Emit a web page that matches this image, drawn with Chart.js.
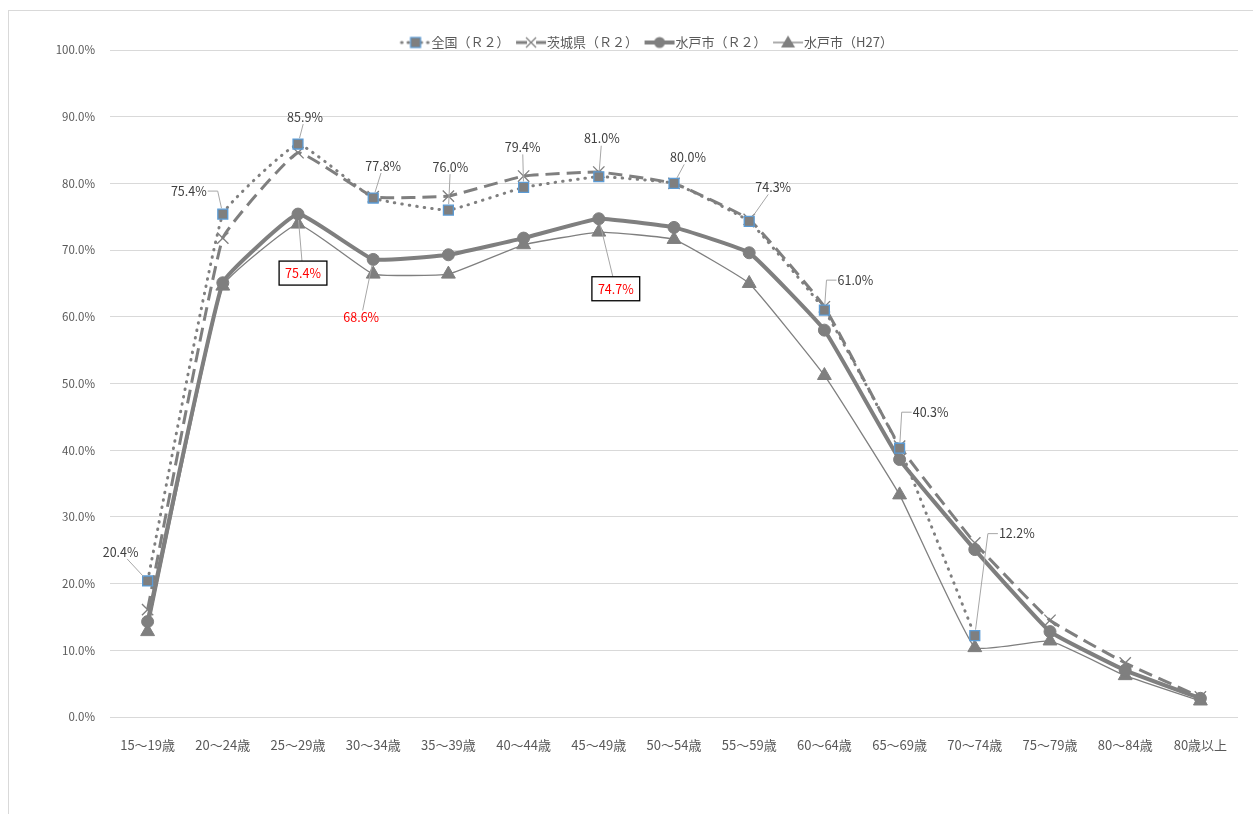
<!DOCTYPE html>
<html lang="ja">
<head>
<meta charset="utf-8">
<title>労働力率</title>
<script src="https://cdn.jsdelivr.net/npm/chart.js@4.4.1/dist/chart.umd.min.js"></script>
<style>
  html, body { margin: 0; padding: 0; background: #fff; }
  #wrap { position: relative; width: 1253px; height: 814px; overflow: hidden; }
  #frame { position: absolute; left: 8px; top: 10px; width: 1300px; height: 900px;
           border: 1px solid #d9d9d9; pointer-events: none; }
  canvas { position: absolute; left: 0; top: 0; }
</style>
</head>
<body>
<div id="wrap">
  <canvas id="chart" width="1253" height="814"></canvas>
  <div id="frame"></div>
</div>
<script>
// Age groups on the category axis
const categories = ['15～19歳', '20～24歳', '25～29歳', '30～34歳', '35～39歳',
  '40～44歳', '45～49歳', '50～54歳', '55～59歳', '60～64歳', '65～69歳',
  '70～74歳', '75～79歳', '80～84歳', '80歳以上'];

// Series names
const seriesNames = ['全国（Ｒ２）', '茨城県（Ｒ２）', '水戸市（Ｒ２）', '水戸市（H27）'];

// Labour force participation rate (%)
const zenkokuR2 = [20.4, 75.4, 85.9, 77.8, 76.0, 79.4, 81.0, 80.0, 74.3, 61.0, 40.3, 12.2, null, null, null];
const ibarakiR2 = [16.1, 71.8, 84.6, 78.0, 78.1, 81.1, 81.7, 80.0, 74.6, 61.5, 40.6, 26.1, 14.5, 8.1, 3.0];
const mitoR2    = [14.3, 65.1, 75.4, 68.6, 69.3, 71.8, 74.7, 73.4, 69.6, 58.0, 38.6, 25.1, 12.8, 7.0, 2.8];
const mitoH27   = [12.8, 64.6, 73.9, 66.4, 66.4, 70.8, 72.7, 71.6, 65.0, 51.2, 33.3, 10.4, 11.4, 6.2, 2.4];

// Y axis ticks (%)
const yTicks = [0, 10, 20, 30, 40, 50, 60, 70, 80, 90, 100];

const FONT = "'Noto Sans CJK JP', 'Noto Sans', sans-serif";
const GRAY = '#7f7f7f';

// Callout placement: series index, category index, offset of the label centre from the point (px)
const callouts = [
  { s: 0, i: 0,  dx: -27, dy: -29, leader: 'direct' },
  { s: 0, i: 1,  dx: -34, dy: -23, leader: 'elbow' },
  { s: 0, i: 2,  dx: 7,   dy: -27, leader: 'direct' },
  { s: 0, i: 3,  dx: 10,  dy: -32, leader: 'direct' },
  { s: 0, i: 4,  dx: 2,   dy: -43, leader: 'direct' },
  { s: 0, i: 5,  dx: -1,  dy: -40, leader: 'direct' },
  { s: 0, i: 6,  dx: 3,   dy: -38, leader: 'direct' },
  { s: 0, i: 7,  dx: 14,  dy: -26, leader: 'direct' },
  { s: 0, i: 8,  dx: 24,  dy: -34, leader: 'direct' },
  { s: 0, i: 9,  dx: 31,  dy: -30, leader: 'elbow' },
  { s: 0, i: 10, dx: 31,  dy: -36, leader: 'elbow' },
  { s: 0, i: 11, dx: 42,  dy: -102, leader: 'elbow' },
  { s: 2, i: 2,  dx: 5,   dy: 59, leader: 'direct', red: true, boxed: true },
  { s: 2, i: 3,  dx: -12, dy: 58, leader: 'direct', red: true },
  { s: 2, i: 6,  dx: 17,  dy: 70, leader: 'direct', red: true, boxed: true }
];

// Legend layout
const LEGEND_BOX = 24;            // legend box width reserved per item
const LEGEND_FONT = 13;
const ICON_W = LEGEND_BOX + LEGEND_FONT; // icon is centred on the box, so it spans box-6.5 .. text start

// Legend icons: short line sample with the series marker in the middle
function makeIcon(kind) {
  const c = document.createElement('canvas');
  c.width = ICON_W; c.height = 16;
  const g = c.getContext('2d');
  const y = 8;
  const x0 = 6, x1 = ICON_W - 1;
  const m = (x0 + x1) / 2;
  g.strokeStyle = GRAY;
  g.fillStyle = GRAY;
  if (kind === 0) {
    g.lineWidth = 3; g.setLineDash([0.5, 6]); g.lineCap = 'round';
    g.beginPath(); g.moveTo(x0 + 1, y); g.lineTo(x1, y); g.stroke();
    g.setLineDash([]);
    g.fillRect(m - 5, y - 5, 10, 10);
    g.strokeStyle = '#5b9bd5'; g.lineWidth = 1.2;
    g.strokeRect(m - 5, y - 5, 10, 10);
  } else if (kind === 1) {
    g.lineWidth = 3;
    g.beginPath(); g.moveTo(x0, y); g.lineTo(m - 4, y); g.moveTo(m + 5, y); g.lineTo(x1, y); g.stroke();
    g.lineWidth = 1.3;
    g.beginPath(); g.moveTo(m - 5, y - 5); g.lineTo(m + 5, y + 5);
    g.moveTo(m + 5, y - 5); g.lineTo(m - 5, y + 5); g.stroke();
  } else if (kind === 2) {
    g.lineWidth = 4;
    g.beginPath(); g.moveTo(x0, y); g.lineTo(x1, y); g.stroke();
    g.beginPath(); g.arc(m, y, 5.5, 0, Math.PI * 2); g.fill();
  } else {
    g.lineWidth = 1.3;
    g.beginPath(); g.moveTo(x0, y); g.lineTo(x1, y); g.stroke();
    g.beginPath(); g.moveTo(m, y - 7); g.lineTo(m + 7, y + 5); g.lineTo(m - 7, y + 5); g.closePath(); g.fill();
  }
  return c;
}
const legendIcons = [0, 1, 2, 3].map(makeIcon);

// Draws the value callouts with their leader lines
const calloutPlugin = {
  id: 'callouts',
  afterDatasetsDraw(chart) {
    const ctx = chart.ctx;
    ctx.save();
    ctx.font = '12.5px ' + FONT;
    ctx.textAlign = 'center';
    ctx.textBaseline = 'middle';
    callouts.forEach(c => {
      const meta = chart.getDatasetMeta(c.s);
      const el = meta.data[c.i];
      const v = chart.data.datasets[c.s].data[c.i];
      if (!el || v == null) return;
      const px = el.x, py = el.y;
      const text = v.toFixed(1) + '%';
      const tw = ctx.measureText(text).width;
      const cx = px + c.dx, cy = py + c.dy;
      const hw = c.boxed ? tw / 2 + 6 : tw / 2 + 1;
      const hh = c.boxed ? 12 : 7;
      // leader line
      ctx.strokeStyle = '#a6a6a6';
      ctx.lineWidth = 1;
      ctx.beginPath();
      if (c.leader === 'elbow') {
        const side = c.dx < 0 ? 1 : -1;
        const sx = cx + side * hw;
        const ex = sx + side * 10;
        const ang = Math.atan2(py - cy, px - ex);
        ctx.moveTo(sx, cy);
        ctx.lineTo(ex, cy);
        ctx.lineTo(px - Math.cos(ang) * 6, py - Math.sin(ang) * 6);
      } else {
        const ddx = px - cx, ddy = py - cy;
        const t = Math.min(Math.abs(hw / (ddx || 1e-6)), Math.abs(hh / (ddy || 1e-6)));
        const sx = cx + ddx * t, sy = cy + ddy * t;
        const len = Math.hypot(ddx, ddy);
        ctx.moveTo(sx, sy);
        ctx.lineTo(px - ddx / len * 6, py - ddy / len * 6);
      }
      ctx.stroke();
      if (c.boxed) {
        ctx.fillStyle = '#fff';
        ctx.fillRect(cx - hw, cy - hh, hw * 2, hh * 2);
        ctx.strokeStyle = '#000';
        ctx.lineWidth = 1.3;
        ctx.strokeRect(cx - hw, cy - hh, hw * 2, hh * 2);
      }
      ctx.fillStyle = c.red ? '#ff0000' : '#404040';
      ctx.fillText(text, cx, cy);
    });
    ctx.restore();
  }
};

const PAD_LEFT = 56;
const PLOT_LEFT = 110;

const chart = new Chart(document.getElementById('chart'), {
  type: 'line',
  data: {
    labels: categories,
    datasets: [
      {
        label: seriesNames[0], data: zenkokuR2,
        borderColor: GRAY, borderWidth: 3, borderDash: [0.5, 7], borderCapStyle: 'round',
        pointStyle: 'rect', pointRadius: 7, pointBackgroundColor: GRAY,
        pointBorderColor: '#5b9bd5', pointBorderWidth: 1.3, tension: 0.1
      },
      {
        label: seriesNames[1], data: ibarakiR2,
        borderColor: GRAY, borderWidth: 3, borderDash: [14, 7],
        pointStyle: 'crossRot', pointRadius: 8, pointBorderColor: GRAY,
        pointBorderWidth: 1.3, tension: 0.1
      },
      {
        label: seriesNames[2], data: mitoR2,
        borderColor: GRAY, borderWidth: 4,
        pointStyle: 'circle', pointRadius: 6, pointBackgroundColor: GRAY,
        pointBorderColor: GRAY, pointBorderWidth: 1, tension: 0.1
      },
      {
        label: seriesNames[3], data: mitoH27,
        borderColor: GRAY, borderWidth: 1.3,
        pointStyle: 'triangle', pointRadius: 8, pointBackgroundColor: GRAY,
        pointBorderColor: GRAY, pointBorderWidth: 1, tension: 0.1
      }
    ]
  },
  options: {
    responsive: false,
    animation: false,
    layout: { padding: { left: PAD_LEFT, right: 15, top: 29, bottom: 0 } },
    plugins: {
      tooltip: { enabled: false },
      legend: {
        position: 'top',
        align: 'center',
        maxHeight: 21,
        labels: {
          usePointStyle: true,
          pointStyleWidth: LEGEND_BOX,
          padding: 7,
          color: '#595959',
          font: { family: FONT, size: LEGEND_FONT },
          generateLabels(ch) {
            return Chart.defaults.plugins.legend.labels.generateLabels(ch)
              .map((l, k) => Object.assign(l, { pointStyle: legendIcons[k] }));
          }
        }
      }
    },
    scales: {
      x: {
        type: 'category',
        offset: true,
        grid: { display: false },
        border: { display: false },
        ticks: { color: '#595959', font: { family: FONT, size: 13 }, padding: 12, maxRotation: 0, autoSkip: false },
        afterFit(s) { s.height = 97; }
      },
      y: {
        min: 0, max: 100,
        afterBuildTicks(s) { s.ticks = yTicks.map(v => ({ value: v })); },
        grid: { color: '#d9d9d9', lineWidth: 1, drawTicks: false },
        border: { display: false },
        ticks: {
          color: '#595959', font: { family: FONT, size: 11.5 }, padding: 15,
          callback: v => Number(v).toFixed(1) + '%'
        },
        afterFit(s) { s.width = PLOT_LEFT - PAD_LEFT; }
      }
    }
  },
  plugins: [calloutPlugin]
});
</script>
</body>
</html>
